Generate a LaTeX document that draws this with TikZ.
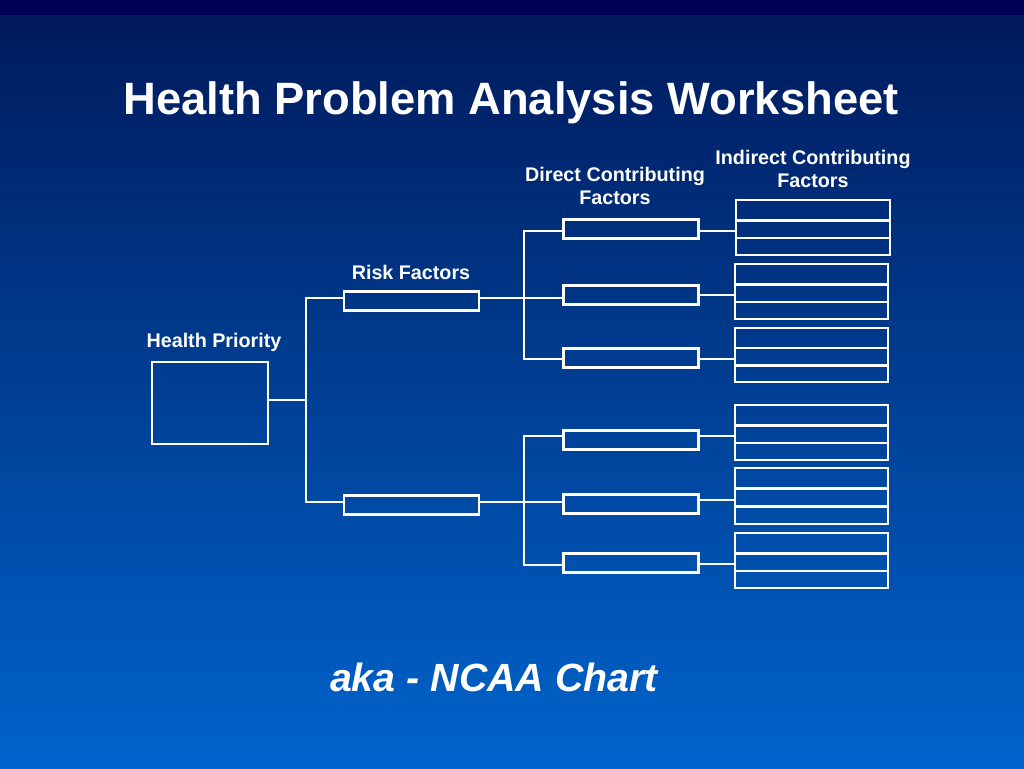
\documentclass[tikz,border=0pt]{standalone}
\usepackage{fontspec}
\setmainfont{Liberation Sans}
\usetikzlibrary{calc}
\definecolor{bandcol}{RGB}{0,0,85}
\definecolor{topcol}{RGB}{0,26,92}
\definecolor{botcol}{RGB}{0,100,204}
\begin{document}
\begin{tikzpicture}[x=0.75pt,y=-0.75pt,
  wline/.style={draw=white,line width=1.9pt},
  box/.style={wline,rectangle,inner sep=0pt,outer sep=0pt},
  hpbox/.style={box,minimum width=87pt,minimum height=61.5pt},
  rfbox/.style={box,minimum width=101.25pt,minimum height=14.25pt},
  dbox/.style={box,minimum width=101.25pt,minimum height=14.25pt},
  gbox/.style={box,minimum width=114.75pt,minimum height=41.25pt},
  lbl/.style={text=white,font=\fontsize{14.8pt}{17.6pt}\selectfont\bfseries,align=center,inner sep=0pt},
  conn/.style={wline}]
\useasboundingbox (0,0) rectangle (1024,768);
\fill[bandcol] (0,0) rectangle (1024,15);
\shade[top color=topcol,bottom color=botcol] (0,15) rectangle (1024,768);

% labels
\node[text=white,inner sep=0pt,font=\fontsize{34pt}{40pt}\selectfont\bfseries] (title) at (511,103) {Health Problem Analysis Worksheet};
\node[lbl] (lhp) at (214,342) {Health Priority};
\node[lbl] (lrf) at (411,272) {Risk Factors};
\node[lbl] (ldcf) at (615,186) {Direct Contributing\\Factors};
\node[lbl] (licf) at (813,169) {Indirect Contributing\\Factors};
\node[text=white,inner sep=0pt,font=\fontsize{29.5pt}{35pt}\selectfont\bfseries\itshape] (aka) at (494,677) {aka - NCAA Chart};

% boxes
\node[hpbox] (hp) at (210,403) {};
\node[rfbox] (rf1) at (411.5,301) {};
\node[rfbox] (rf2) at (411.5,505) {};
\node[dbox] (d1) at (631,229) {};
\node[dbox] (d2) at (631,295) {};
\node[dbox] (d3) at (631,358) {};
\node[dbox] (d4) at (631,440) {};
\node[dbox] (d5) at (631,504) {};
\node[dbox] (d6) at (631,563) {};
\node[gbox,minimum width=115.5pt] (g1) at (813,227.5) {};
\node[gbox] (g2) at (811.5,291.5) {};
\node[gbox,minimum height=40.5pt] (g3) at (811.5,355) {};
\node[gbox] (g4) at (811.5,432.5) {};
\node[gbox,minimum height=42pt] (g5) at (811.5,496) {};
\node[gbox] (g6) at (811.5,560.5) {};
\foreach \g in {g1,g2,g3,g4,g5,g6}{
  \draw[wline] ($(\g.north west)!0.37!(\g.south west)$) -- ($(\g.north east)!0.37!(\g.south east)$);
  \draw[wline] ($(\g.north west)!0.69!(\g.south west)$) -- ($(\g.north east)!0.69!(\g.south east)$);
}

% junctions
\coordinate (j1) at (306,400);
\coordinate (j2) at (524,298);
\coordinate (j3) at (524,502);

% connectors
\draw[conn] (hp.east |- j1) -- (j1);
\draw[conn] (rf1.west |- 0,298) -| (j1) |- (rf2.west |- 0,502);
\draw[conn] (d1.west |- 0,231) -| (j2) |- (d3.west |- 0,359);
\draw[conn] (rf1.east |- j2) -- (d2.west |- j2);
\draw[conn] (d4.west |- 0,436) -| (j3) |- (d6.west |- 0,565);
\draw[conn] (rf2.east |- j3) -- (d5.west |- j3);
\draw[conn] (d1.east |- 0,231) -- (g1.west |- 0,231);
\draw[conn] (d2.east |- 0,295) -- (g2.west |- 0,295);
\draw[conn] (d3.east |- 0,359) -- (g3.west |- 0,359);
\draw[conn] (d4.east |- 0,436) -- (g4.west |- 0,436);
\draw[conn] (d5.east |- 0,500) -- (g5.west |- 0,500);
\draw[conn] (d6.east |- 0,564) -- (g6.west |- 0,564);
\end{tikzpicture}
\end{document}
